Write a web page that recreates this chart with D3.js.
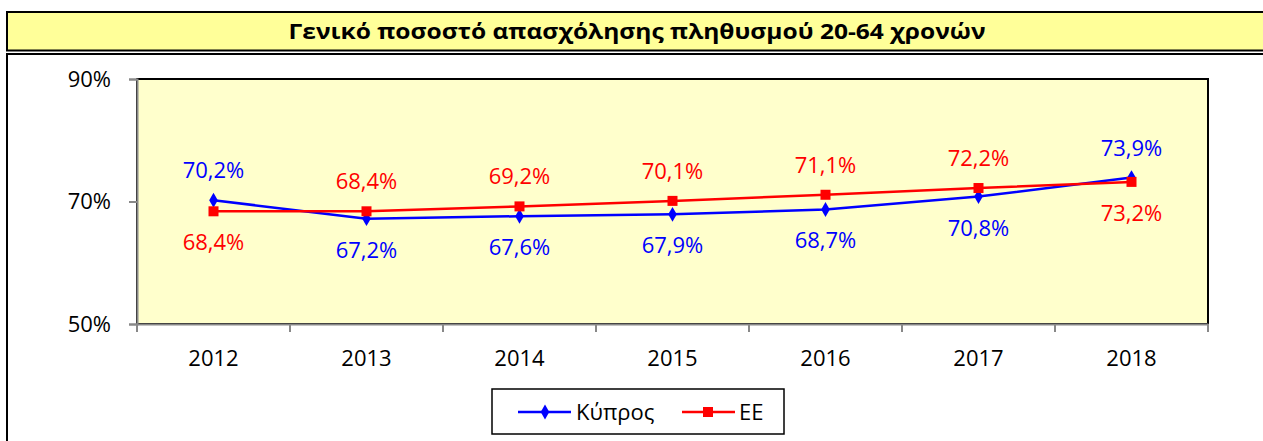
<!DOCTYPE html>
<html>
<head>
<meta charset="utf-8">
<script src="https://cdn.jsdelivr.net/npm/d3@7"></script>
<style>
  html, body { margin: 0; padding: 0; background: #ffffff; }
  svg { display: block; font-family: "Open Sans", "Noto Sans", sans-serif; }
</style>
</head>
<body>
<svg id="chart" width="1263" height="441"></svg>
<script>
// Employment rate, population aged 20-64
const years = ["2012", "2013", "2014", "2015", "2016", "2017", "2018"];
const cyprus = [70.2, 67.2, 67.6, 67.9, 68.7, 70.8, 73.9];
const eu = [68.4, 68.4, 69.2, 70.1, 71.1, 72.2, 73.2];
const yTicks = [50, 70, 90];
const seriesNames = ["Κύπρος", "ΕΕ"];
const titleText = "Γενικό ποσοστό απασχόλησης πληθυσμού 20-64 χρονών";

const svg = d3.select("#chart");
const W = 1263, H = 441;
const FONT = "'Open Sans', 'Noto Sans', sans-serif";

// Title band (double bottom rule)
svg.append("rect").attr("x", 7).attr("y", 12).attr("width", W + 10).attr("height", 38.5)
  .attr("fill", "#FFFF99").attr("stroke", "#000").attr("stroke-width", 2);
svg.append("text").attr("x", 637).attr("y", 39).attr("text-anchor", "middle")
  .attr("font-size", 22).attr("font-weight", "bold").attr("fill", "#000")
  .attr("textLength", 697).attr("lengthAdjust", "spacingAndGlyphs").text(titleText);

// Chart frame
svg.append("rect").attr("x", 7).attr("y", 54).attr("width", W + 10).attr("height", H)
  .attr("fill", "#fff").attr("stroke", "#000").attr("stroke-width", 2);

const plot = { left: 137, right: 1208, top: 79, bottom: 324 };

const x = d3.scaleBand().domain(years).range([plot.left, plot.right]);
const y = d3.scaleLinear().domain([50, 90]).range([plot.bottom, plot.top]);

// Plot area
svg.append("rect").attr("x", plot.left).attr("y", plot.top)
  .attr("width", plot.right - plot.left).attr("height", plot.bottom - plot.top)
  .attr("fill", "#FFFFCC").attr("stroke", "#000").attr("stroke-width", 2);

// Y axis
const yAxis = svg.append("g").attr("transform", `translate(${plot.left},0)`)
  .call(d3.axisLeft(y).tickValues(yTicks).tickSize(8).tickPadding(18).tickFormat(d => d + "%"));
yAxis.attr("font-size", 22).attr("font-family", FONT);
yAxis.select(".domain").attr("stroke", "#888").attr("stroke-width", 2);
yAxis.selectAll(".tick line").attr("stroke", "#888").attr("stroke-width", 2);
yAxis.selectAll("text").attr("fill", "#000");

// X axis: ticks at category boundaries
const xAxis = svg.append("g").attr("transform", `translate(0,${plot.bottom})`)
  .call(d3.axisBottom(x).tickSize(0).tickPadding(26));
xAxis.attr("font-size", 22).attr("font-family", FONT);
xAxis.select(".domain").attr("stroke", "#888").attr("stroke-width", 2);
xAxis.selectAll("text").attr("fill", "#000");
const bounds = years.map(d => x(d)).concat([plot.right]);
xAxis.selectAll(".bound").data(bounds).join("line").attr("class", "bound")
  .attr("x1", d => d).attr("x2", d => d).attr("y1", 0).attr("y2", 8)
  .attr("stroke", "#888").attr("stroke-width", 2);

const cx = d => x(d) + x.bandwidth() / 2;
const line = d3.line().x((v, i) => cx(years[i])).y(v => y(v));
const diamond = d3.symbol().type(d3.symbolDiamond).size(64);

// Κύπρος series
svg.append("path").datum(cyprus).attr("d", line).attr("fill", "none")
  .attr("stroke", "#0000FF").attr("stroke-width", 2.5);
svg.selectAll(".cy").data(cyprus).join("path").attr("class", "cy")
  .attr("d", diamond).attr("transform", (v, i) => `translate(${cx(years[i])},${y(v)})`)
  .attr("fill", "#0000FF");

// ΕΕ series
svg.append("path").datum(eu).attr("d", line).attr("fill", "none")
  .attr("stroke", "#FF0000").attr("stroke-width", 2.5);
svg.selectAll(".eu").data(eu).join("rect").attr("class", "eu")
  .attr("x", (v, i) => cx(years[i]) - 5).attr("y", v => y(v) - 5)
  .attr("width", 10).attr("height", 10).attr("fill", "#FF0000");

// Value labels: Κύπρος above at the ends, below elsewhere; ΕΕ the opposite
const fmt = v => v.toFixed(1).replace(".", ",") + "%";
const cyAbove = i => i === 0 || i === years.length - 1;
svg.selectAll(".cyl").data(cyprus).join("text").attr("class", "cyl")
  .attr("x", (v, i) => cx(years[i]))
  .attr("y", (v, i) => y(v) + (cyAbove(i) ? -22 : 39))
  .attr("text-anchor", "middle").attr("font-size", 22).attr("fill", "#0000FF").text(fmt);
svg.selectAll(".eul").data(eu).join("text").attr("class", "eul")
  .attr("x", (v, i) => cx(years[i]))
  .attr("y", (v, i) => y(v) + (cyAbove(i) ? 39 : -22))
  .attr("text-anchor", "middle").attr("font-size", 22).attr("fill", "#FF0000").text(fmt);

// Legend
const lg = svg.append("g");
lg.append("rect").attr("x", 492).attr("y", 389).attr("width", 292).attr("height", 45)
  .attr("fill", "#fff").attr("stroke", "#000").attr("stroke-width", 1.5);
const legendItems = [
  { name: seriesNames[0], color: "#0000FF", x0: 518, tx: 576, marker: "diamond" },
  { name: seriesNames[1], color: "#FF0000", x0: 682, tx: 739, marker: "square" }
];
legendItems.forEach(it => {
  lg.append("line").attr("x1", it.x0).attr("x2", it.x0 + 53).attr("y1", 412).attr("y2", 412)
    .attr("stroke", it.color).attr("stroke-width", 2.5);
  if (it.marker === "diamond") {
    lg.append("path").attr("d", diamond).attr("transform", `translate(${it.x0 + 27},412)`).attr("fill", it.color);
  } else {
    lg.append("rect").attr("x", it.x0 + 21).attr("y", 407).attr("width", 10).attr("height", 10).attr("fill", it.color);
  }
  lg.append("text").attr("x", it.tx).attr("y", 420).attr("font-size", 22).attr("fill", "#000").text(it.name);
});
</script>
</body>
</html>
